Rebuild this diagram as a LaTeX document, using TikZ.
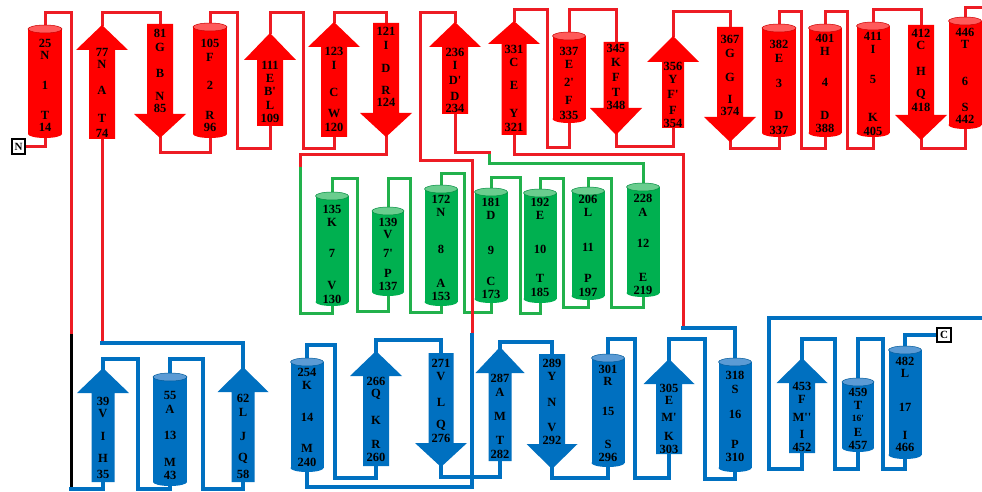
\documentclass[tikz,border=0pt]{standalone}
\usepackage{fontspec}
\setmainfont{Liberation Serif}
\definecolor{rf}{HTML}{FF0000}
\definecolor{rt}{HTML}{FF5A5A}
\definecolor{rl}{HTML}{ED1C24}
\definecolor{gf}{HTML}{00B050}
\definecolor{gt}{HTML}{6ACD8E}
\definecolor{gl}{HTML}{22B14C}
\definecolor{bf}{HTML}{0070C0}
\definecolor{bt}{HTML}{5B9BD5}
\definecolor{bl}{HTML}{0070C0}
\pgfdeclarelayer{bg}
\pgfsetlayers{bg,main}
\newcommand{\pr}{\textquotesingle}
% helix: name, cx, top, bottom, half width, fill, top fill
\newcommand{\hlx}[7]{%
 \fill[#6] (#2-#5,#3+4) rectangle (#2+#5,#4-4);
 \fill[#6] (#2,#4-4) ellipse [x radius=#5, y radius=4];
 \filldraw[fill=#7, draw=#6!80!black, line width=0.5pt] (#2,#3+4) ellipse [x radius=#5, y radius=4];
 \coordinate (#1-t) at (#2,#3);
 \coordinate (#1-b) at (#2,#4);}
% up arrow: name, cx, tip, head base, bottom, shaft half width, head half width, colour
\newcommand{\aup}[8]{%
 \fill[#8] (#2-#6,#5) -- (#2-#6,#4) -- (#2-#7,#4) -- (#2,#3) -- (#2+#7,#4) -- (#2+#6,#4) -- (#2+#6,#5) -- cycle;
 \coordinate (#1-t) at (#2,#3);
 \coordinate (#1-b) at (#2,#5);}
% down arrow: name, cx, top, head base, tip, shaft half width, head half width, colour
\newcommand{\adn}[8]{%
 \fill[#8] (#2-#6,#3) -- (#2-#6,#4) -- (#2-#7,#4) -- (#2,#5) -- (#2+#7,#4) -- (#2+#6,#4) -- (#2+#6,#3) -- cycle;
 \coordinate (#1-t) at (#2,#3);
 \coordinate (#1-b) at (#2,#5);}
\newcommand{\sselbl}[3]{%
 \foreach \lY/\lT [count=\ii] in {#3} {\node[lbl] (#1-l\ii) at (#2,\lY) {\lT};}}
\begin{document}
\begin{tikzpicture}[x=1pt,y=-1pt,
 lbl/.style={inner sep=0pt, font=\fontsize{12.5}{13}\selectfont\bfseries},
 conn/.style={line width=3pt, line join=miter, line cap=rect},
 redl/.style={conn, draw=rl},
 greenl/.style={conn, draw=gl},
 bluel/.style={conn, draw=bl, line width=3.5pt},
 blackl/.style={conn, draw=black},
 termbox/.style={draw=black, line width=1.5pt, fill=white, inner sep=0pt, minimum width=13, minimum height=15, font=\fontsize{11}{11}\selectfont\bfseries}]
\useasboundingbox (0,0) rectangle (982,492);
\begin{pgfonlayer}{bg}
\fill[white] (0,0) rectangle (982,492);
\end{pgfonlayer}
% ---------- red row ----------
\hlx{h25}{45}{25}{138}{17}{rf}{rt}
\aup{a77}{102}{25}{50}{139}{13}{26}{rf}
\adn{a81}{160}{24}{114}{138}{13}{26}{rf}
\hlx{h105}{210}{23}{138}{17}{rf}{rt}
\aup{a111}{270}{33}{60}{126}{13}{26}{rf}
\aup{a123}{334}{22}{47}{137}{13}{26}{rf}
\adn{a121}{386}{23}{113}{137}{13}{26}{rf}
\aup{a236}{455}{22}{47}{114}{13}{26}{rf}
\aup{a331}{514}{21}{44}{135}{12.5}{26}{rf}
\hlx{h337}{569}{32}{123}{16.5}{rf}{rt}
\adn{a345}{616}{42}{108}{135}{12.5}{26}{rf}
\aup{a356}{673}{36}{62}{128}{11}{26}{rf}
\adn{a367}{730}{27}{117}{142}{13}{26}{rf}
\hlx{h382}{779}{24}{137}{17}{rf}{rt}
\hlx{h401}{825}{24}{137}{16.5}{rf}{rt}
\hlx{h411}{873}{22}{137}{16.5}{rf}{rt}
\adn{a412}{921}{25}{115}{140}{13}{26}{rf}
\hlx{h446}{965}{17}{129}{16.5}{rf}{rt}
% ---------- green row ----------
\hlx{g135}{332}{192}{306}{16.5}{gf}{gt}
\hlx{g139}{388}{207}{296}{16}{gf}{gt}
\hlx{g172}{441}{185}{306}{16.5}{gf}{gt}
\hlx{g181}{491}{188}{303}{16.5}{gf}{gt}
\hlx{g192}{540}{189}{303}{16.5}{gf}{gt}
\hlx{g206}{588}{187}{300}{16.5}{gf}{gt}
\hlx{g228}{643}{183}{297}{16.5}{gf}{gt}
% ---------- blue row ----------
\aup{b39}{103}{368}{393}{482}{11.5}{26}{bf}
\hlx{b55}{170}{373}{486}{17}{bf}{bt}
\aup{b62}{243}{367}{392}{482}{11.5}{25.5}{bf}
\hlx{b254}{307}{358}{472}{16.5}{bf}{bt}
\aup{b266}{376}{351}{376}{466}{13}{26}{bf}
\adn{b271}{441}{353}{443}{467}{12.5}{26}{bf}
\aup{b287}{500}{347}{373}{461}{11.5}{24.5}{bf}
\adn{b289}{552}{354}{444}{469}{13}{25.5}{bf}
\hlx{b301}{608}{354}{467}{16.5}{bf}{bt}
\aup{b305}{669}{359}{384}{454}{13}{25.5}{bf}
\hlx{b318}{735}{358}{472}{16.5}{bf}{bt}
\aup{b453}{802}{358}{383}{453}{13}{25.5}{bf}
\hlx{b459}{858}{378}{452}{16}{bf}{bt}
\hlx{b482}{905}{346}{459}{16.5}{bf}{bt}
% ---------- termini and junction points ----------
\node[termbox] (nbox) at (18.5,146.5) {N};
\node[termbox, minimum width=14, minimum height=14] (cbox) at (944,335) {C};
\coordinate (k1) at (71,335);
\coordinate (k2) at (71,489);
\coordinate (k3) at (102,343);
\coordinate (k4) at (300,165);
\coordinate (k5) at (472,335);
\coordinate (k6) at (489,152);
\coordinate (k7) at (683,328);
\coordinate (e1) at (990,8);
\coordinate (e2) at (990,318);
% ---------- connectors ----------
\begin{pgfonlayer}{bg}
% green
\draw[greenl] (g135-t) -- (g135-t |- 0,178) -| (357,311) -| (g139-b);
\draw[greenl] (g139-t) -- (g139-t |- 0,178) -| (410,312) -| (g172-b);
\draw[greenl] (g172-t) -- (g172-t |- 0,173) -| (464,312) -| (g181-b);
\draw[greenl] (g181-t) -- (g181-t |- 0,177) -| (520,313) -| (g192-b);
\draw[greenl] (g192-t) -- (g192-t |- 0,178) -| (563,307) -| (g206-b);
\draw[greenl] (g206-t) -- (g206-t |- 0,178) -| (611,307) -| (g228-b);
\draw[greenl] (k4) -- (300,313) -| (g135-b);
\draw[greenl] (k6) -- (489,163) -| (g228-t);
% red
\draw[redl] (h25-b) |- (nbox.east);
\draw[redl] (h25-t) -- (h25-t |- 0,13) -| (k1);
\draw[blackl] (k1) -- (k2);
\draw[redl] (a77-b) -- (k3);
\draw[redl] (a77-t) -- (a77-t |- 0,13) -| (a81-t);
\draw[redl] (a81-b) -- (a81-b |- 0,152) -| (h105-b);
\draw[redl] (h105-t) -- (h105-t |- 0,13) -| (237,148) -| (a111-b);
\draw[redl] (a111-t) -- (a111-t |- 0,13) -| (303,148) -| (a123-b);
\draw[redl] (a123-t) -- (a123-t |- 0,13) -| (a121-t);
\draw[redl] (a121-b) -- (a121-b |- 0,154) -| (k4);
\draw[redl] (a236-t) -- (a236-t |- 0,13) -| (420,160) -| (k5);
\draw[redl] (a236-b) |- (k6);
\draw[redl] (a331-t) -- (a331-t |- 0,10) -| (547,147) -| (h337-b);
\draw[redl] (a331-b) -- (a331-b |- 0,154) -| (k7);
\draw[redl] (h337-t) -- (h337-t |- 0,10) -| (a345-t);
\draw[redl] (a345-b) -- (a345-b |- 0,146) -| (a356-b);
\draw[redl] (a356-t) -- (a356-t |- 0,12) -| (a367-t);
\draw[redl] (a367-b) -- (a367-b |- 0,148) -| (h382-b);
\draw[redl] (h382-t) -- (h382-t |- 0,12) -| (801,148) -| (h401-b);
\draw[redl] (h401-t) -- (h401-t |- 0,12) -| (847,148) -| (h411-b);
\draw[redl] (h411-t) -- (h411-t |- 0,10) -| (a412-t);
\draw[redl] (a412-b) -- (a412-b |- 0,148) -| (h446-b);
\draw[redl] (h446-t) |- (e1);
% blue
\draw[bluel] (k2) -| (b39-b);
\draw[bluel] (k3) -| (b62-t);
\draw[bluel] (k5) -- (472,487) -| (b254-b);
\draw[bluel] (k7) -| (b318-t);
\draw[bluel] (b39-t) -- (b39-t |- 0,359) -| (138,489) -| (b55-b);
\draw[bluel] (b55-t) -- (b55-t |- 0,359) -| (203,489) -| (b62-b);
\draw[bluel] (b254-t) -- (b254-t |- 0,345) -| (335,478) -| (b266-b);
\draw[bluel] (b266-t) -- (b266-t |- 0,340) -| (b271-t);
\draw[bluel] (b271-b) -- (b271-b |- 0,477) -| (b287-b);
\draw[bluel] (b287-t) -- (b287-t |- 0,342) -| (b289-t);
\draw[bluel] (b289-b) -- (b289-b |- 0,478) -| (b301-b);
\draw[bluel] (b301-t) -- (b301-t |- 0,339) -| (635,478) -| (b305-b);
\draw[bluel] (b305-t) -- (b305-t |- 0,339) -| (705,479) -| (b318-b);
\draw[bluel] (e2) -| (769,469) -| (b453-b);
\draw[bluel] (b453-t) -- (b453-t |- 0,339) -| (835,469) -| (b459-b);
\draw[bluel] (b459-t) -- (b459-t |- 0,339) -| (883,469) -| (b482-b);
\draw[bluel] (b482-t) |- (cbox.west);
\end{pgfonlayer}
% ---------- labels ----------
\sselbl{h25}{45}{43/25,55/N,85/1,115/T,127/14}
\sselbl{a77}{102}{52/77,64/N,90/A,118/T,133/74}
\sselbl{a81}{160}{33/81,47/G,73/B,96/N,108/85}
\sselbl{h105}{210}{43/105,57/F,85/2,115/R,127/96}
\sselbl{a111}{270}{65/111,78/E,91/B\pr,105/L,118/109}
\sselbl{a123}{334}{51/123,65/I,92/C,114/W,127/120}
\sselbl{a121}{386}{31/121,45/I,68/D,90/R,102/124}
\sselbl{a236}{455}{52/236,65/I,80/D\pr,96/D,108/234}
\sselbl{a331}{514}{49/331,62/C,85/E,113/Y,127/321}
\sselbl{h337}{569}{51/337,64/E,82/2\pr,100/F,115/335}
\sselbl{a345}{616}{48/345,62/K,77/F,92/T,105/348}
\sselbl{a356}{673}{66/356,79/Y,94/F\pr,110/F,123/354}
\sselbl{a367}{730}{39/367,53/G,77/G,99/I,111/374}
\sselbl{h382}{779}{44/382,58/E,83/3,115/D,130/337}
\sselbl{h401}{825}{38/401,51/H,82/4,115/D,128/388}
\sselbl{h411}{873}{36/411,49/I,79/5,117/K,131/405}
\sselbl{a412}{921}{33/412,45/C,71/H,94/Q,107/418}
\sselbl{h446}{965}{32/446,44/T,81/6,107/S,119/442}
\sselbl{g135}{332}{209/135,222/K,253/7,285/V,299/130}
\sselbl{g139}{388}{222/139,235/V,253/7\pr,273/P,286/137}
\sselbl{g172}{441}{199/172,212/N,249/8,283/A,296/153}
\sselbl{g181}{491}{202/181,215/D,250/9,281/C,294/173}
\sselbl{g192}{540}{202/192,215/E,249/10,278/T,292/185}
\sselbl{g206}{588}{199/206,212/L,247/11,278/P,292/197}
\sselbl{g228}{643}{198/228,212/A,243/12,277/E,290/219}
\sselbl{b39}{103}{401/39,413/V,436/I,458/H,474/35}
\sselbl{b55}{170}{395/55,409/A,435/13,462/M,475/43}
\sselbl{b62}{243}{398/62,412/L,436/J,458/Q,474/58}
\sselbl{b254}{307}{372/254,385/K,417/14,448/M,462/240}
\sselbl{b266}{376}{381/266,394/Q,420/K,444/R,457/260}
\sselbl{b271}{441}{363/271,376/V,402/L,425/Q,438/276}
\sselbl{b287}{500}{378/287,392/A,416/M,440/T,454/282}
\sselbl{b289}{552}{363/289,376/Y,402/N,427/V,440/292}
\sselbl{b301}{608}{369/301,381/R,411/15,444/S,457/296}
\sselbl{b305}{669}{388/305,400/E,417/M\pr,436/K,449/303}
\sselbl{b318}{735}{375/318,389/S,414/16,444/P,457/310}
\sselbl{b453}{802}{386/453,399/F,417/M\pr\pr,434/I,447/452}
\sselbl{b459}{858}{392/459,405/T,418/{\fontsize{9.5}{10}\selectfont 16\pr},432/E,445/457}
\sselbl{b482}{905}{361/482,373/L,407/17,435/I,447/466}
\end{tikzpicture}
\end{document}
